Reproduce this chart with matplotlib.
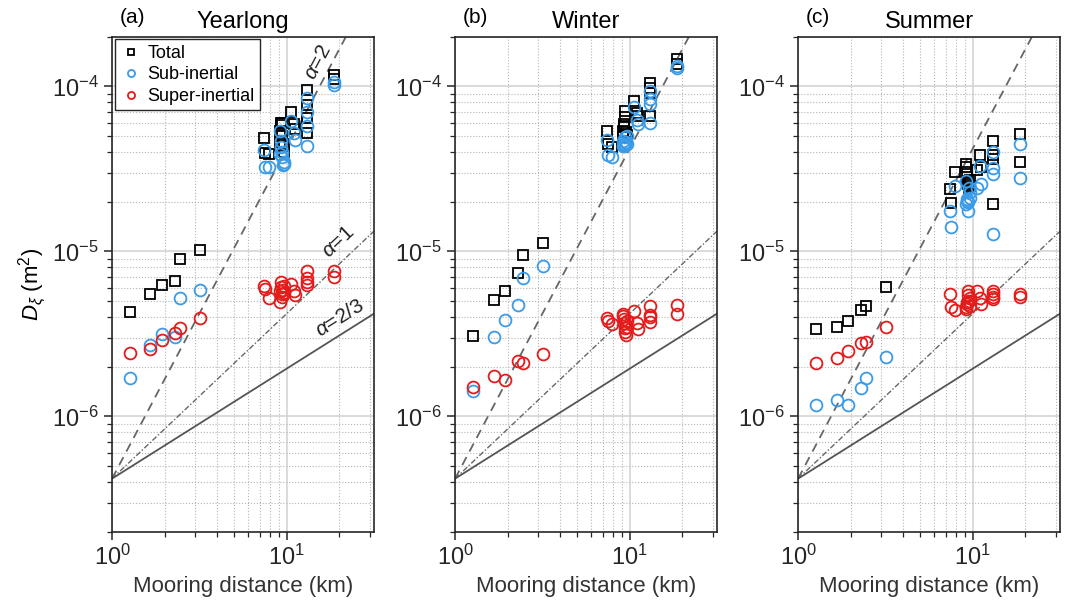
import numpy as np
import matplotlib
matplotlib.use("Agg")
import matplotlib.pyplot as plt
from matplotlib.ticker import LogLocator, NullFormatter

plt.rcParams['font.family'] = ['Liberation Sans', 'DejaVu Sans']
plt.rcParams['mathtext.fontset'] = 'custom'
plt.rcParams['mathtext.rm'] = 'Liberation Sans'
plt.rcParams['mathtext.it'] = 'Liberation Sans:italic'

# mooring separation (km), same pairs in every panel
dist = [1.27, 1.66, 1.94, 2.30, 2.44, 3.19,
        7.4, 7.55, 7.9,
        9.1, 9.15, 9.25, 9.3, 9.4, 9.45, 9.5, 9.6, 9.7,
        10.6, 11.0, 11.2,
        13.1, 13.1, 13.1, 13.1,
        18.6, 18.6]

# (a) yearlong
tot_a = [4.3e-6, 5.5e-6, 6.3e-6, 6.6e-6, 9.0e-6, 1.02e-5,
         4.87e-5, 3.96e-5, 3.87e-5,
         4.58e-5, 5.39e-5, 5.83e-5, 6.0e-5, 5.03e-5, 5.97e-5, 4.5e-5, 4.38e-5, 4.03e-5,
         7.0e-5, 5.89e-5, 5.54e-5,
         9.55e-5, 7.67e-5, 6.43e-5, 5.24e-5,
         1.17e-4, 1.11e-4]
sub_a = [1.72e-6, 2.72e-6, 3.16e-6, 3.04e-6, 5.19e-6, 5.81e-6,
         4.11e-5, 3.23e-5, 3.27e-5,
         3.89e-5, 5.34e-5, 4.69e-5, 4.3e-5, 3.71e-5, 4.0e-5, 3.32e-5, 3.5e-5, 3.4e-5,
         6.2e-5, 5.19e-5, 4.75e-5,
         8.46e-5, 6.95e-5, 5.73e-5, 4.38e-5,
         1.07e-4, 1.02e-4]
sup_a = [2.44e-6, 2.57e-6, 2.90e-6, 3.22e-6, 3.45e-6, 3.97e-6,
         6.16e-6, 5.91e-6, 5.19e-6,
         4.95e-6, 5.78e-6, 6.05e-6, 6.49e-6, 5.52e-6, 5.26e-6, 5.83e-6, 5.6e-6, 6.2e-6,
         6.34e-6, 5.78e-6, 5.45e-6,
         7.57e-6, 6.90e-6, 6.55e-6, 6.28e-6,
         7.64e-6, 7.03e-6]

# (b) winter
tot_b = [3.08e-6, 5.07e-6, 5.73e-6, 7.43e-6, 9.5e-6, 1.12e-5,
         5.34e-5, 4.48e-5, 4.27e-5,
         4.96e-5, 5.39e-5, 5.78e-5, 5.92e-5, 6.49e-5, 7.13e-5, 5.26e-5, 4.91e-5, 5.1e-5,
         8.19e-5, 6.93e-5, 6.6e-5,
         1.05e-4, 9.78e-5, 9.12e-5, 6.62e-5,
         1.47e-4, 1.37e-4]
sub_b = [1.43e-6, 3.04e-6, 3.82e-6, 4.75e-6, 6.95e-6, 8.16e-6,
         4.73e-5, 3.84e-5, 3.71e-5,
         4.38e-5, 4.69e-5, 4.48e-5, 4.38e-5, 4.42e-5, 4.91e-5, 4.6e-5, 5.0e-5, 4.5e-5,
         7.46e-5, 6.25e-5, 5.9e-5,
         9.42e-5, 8.39e-5, 7.8e-5, 5.97e-5,
         1.29e-4, 1.33e-4]
sup_b = [1.50e-6, 1.77e-6, 1.66e-6, 2.18e-6, 2.11e-6, 2.39e-6,
         3.93e-6, 3.77e-6, 3.63e-6,
         4.18e-6, 4.06e-6, 3.89e-6, 3.66e-6, 3.46e-6, 3.25e-6, 3.13e-6, 3.8e-6, 3.5e-6,
         4.33e-6, 3.71e-6, 3.41e-6,
         4.67e-6, 4.13e-6, 4.02e-6, 3.73e-6,
         4.75e-6, 4.15e-6]

# (c) summer
tot_c = [3.40e-6, 3.50e-6, 3.79e-6, 4.41e-6, 4.67e-6, 6.05e-6,
         2.39e-5, 1.96e-5, 3.03e-5,
         3.26e-5, 3.39e-5, 3.01e-5, 2.62e-5, 2.56e-5, 2.68e-5, 2.44e-5, 2.5e-5, 2.7e-5,
         3.11e-5, 3.85e-5, 3.23e-5,
         4.69e-5, 3.85e-5, 3.63e-5, 1.94e-5,
         5.16e-5, 3.5e-5]
sub_c = [1.18e-6, 1.26e-6, 1.17e-6, 1.48e-6, 1.71e-6, 2.29e-6,
         1.75e-5, 1.40e-5, 2.48e-5,
         2.68e-5, 1.94e-5, 2.08e-5, 2.03e-5, 2.0e-5, 1.77e-5, 2.44e-5, 2.1e-5, 2.3e-5,
         2.41e-5, 3.3e-5, 2.58e-5,
         4.03e-5, 3.2e-5, 2.94e-5, 1.27e-5,
         4.5e-5, 2.8e-5]
sup_c = [2.12e-6, 2.25e-6, 2.50e-6, 2.78e-6, 2.84e-6, 3.48e-6,
         5.52e-6, 4.62e-6, 4.41e-6,
         4.48e-6, 4.62e-6, 4.8e-6, 4.91e-6, 5.78e-6, 5.47e-6, 5.0e-6, 4.7e-6, 5.2e-6,
         5.78e-6, 5.22e-6, 4.8e-6,
         5.73e-6, 5.52e-6, 5.14e-6, 5.26e-6,
         5.52e-6, 5.26e-6]

panels = [('(a)', 'Yearlong', tot_a, sub_a, sup_a),
          ('(b)', 'Winter', tot_b, sub_b, sup_b),
          ('(c)', 'Summer', tot_c, sub_c, sup_c)]

# reference power laws D = D0 * r^alpha
d0 = 4.2e-7
xlim = (1, 31.6)
ylim = (2e-7, 2e-4)

blue = '#3a9be8'
red = '#e41b1b'

fig = plt.figure(figsize=(10.67, 6.12), dpi=100)
lefts = [0.105, 0.4265, 0.748]
w, h, b = 0.2455, 0.809, 0.131

# screen angle of a power-law line in the axes box
ax_w_px = w * 1067
ax_h_px = h * 612
def line_angle(a):
    return np.degrees(np.arctan(a * (ax_h_px / 3.0) / (ax_w_px / np.log10(31.6))))

r = np.logspace(0, np.log10(31.6), 50)

for i, (tag, name, tot, sub, sup) in enumerate(panels):
    ax = fig.add_axes([lefts[i], b, w, h])
    ax.set_xscale('log')
    ax.set_yscale('log')
    ax.set_xlim(*xlim)
    ax.set_ylim(*ylim)

    ax.grid(True, which='major', color='#d4d4d4', lw=1.2, ls='-')
    ax.grid(True, which='minor', color='#b5b5b5', lw=0.8, ls=':')
    ax.set_axisbelow(True)

    ax.plot(r, d0 * r**2, color='#666666', lw=1.3, ls=(0, (5, 3.5)))
    ax.plot(r, d0 * r**1, color='#666666', lw=1.0, ls=(0, (4, 1.5, 1, 1.5)))
    ax.plot(r, d0 * r**(2/3), color='#555555', lw=1.3, ls='-')

    ax.plot(dist, tot, 's', mfc='none', mec='black', ms=7, mew=1.3, label='Total')
    ax.plot(dist, sub, 'o', mfc='none', mec=blue, ms=8.5, mew=1.3, label='Sub-inertial')
    ax.plot(dist, sup, 'o', mfc='none', mec=red, ms=8.5, mew=1.3, label='Super-inertial')

    ax.xaxis.set_major_locator(LogLocator(base=10, numticks=10))
    ax.xaxis.set_minor_locator(LogLocator(base=10, subs=np.arange(2, 10), numticks=10))
    ax.yaxis.set_minor_locator(LogLocator(base=10, subs=np.arange(2, 10), numticks=10))
    ax.xaxis.set_minor_formatter(NullFormatter())
    ax.yaxis.set_minor_formatter(NullFormatter())
    ax.tick_params(which='both', direction='out', colors='#262626', labelsize=17)
    ax.tick_params(which='major', length=6, width=1.1)
    ax.tick_params(which='minor', length=3.5, width=0.9)
    for s in ax.spines.values():
        s.set_color('#262626')
        s.set_linewidth(1.2)

    ax.set_xlabel('Mooring distance (km)', fontsize=16, color='#333333',
                  family=['Liberation Sans Narrow', 'Liberation Sans', 'DejaVu Sans'])
    ax.set_title(name, fontsize=17, pad=6)
    ax.text(0.03, 1.02, tag, transform=ax.transAxes, fontsize=15, va='bottom')

    if i == 0:
        ax.set_ylabel(r'$D_{\xi}$ (m$^2$)', fontsize=16, labelpad=2)
        ax.legend(loc='upper left', fontsize=13, markerscale=0.6, frameon=True,
                  fancybox=False, edgecolor='#262626', framealpha=1,
                  handletextpad=0.3, labelspacing=0.25, borderpad=0.3,
                  handlelength=1.2, borderaxespad=0.15)
        ax.text(15.0, 1.39e-4, r'$\alpha$=2', fontsize=15, rotation=line_angle(2),
                ha='center', va='center', color='#222222')
        ax.text(19.6, 1.14e-5, r'$\alpha$=1', fontsize=15, rotation=line_angle(1),
                ha='center', va='center', color='#222222')
        ax.text(20.1, 3.96e-6, r'$\alpha$=2/3', fontsize=15, rotation=line_angle(2/3),
                ha='center', va='center', color='#222222')

fig.savefig('out.png', dpi=100)
